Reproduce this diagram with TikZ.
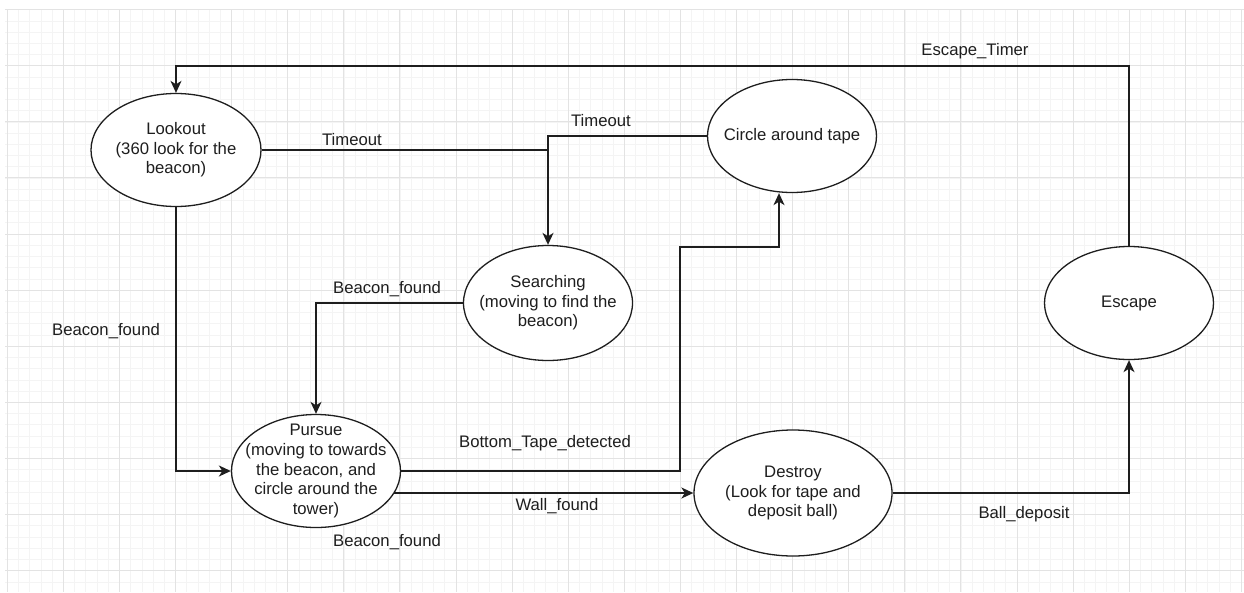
\documentclass[tikz,border=0pt]{standalone}
\usepackage{fontspec}
\setmainfont{Liberation Sans}
\usetikzlibrary{shapes.geometric,arrows.meta,calc}
\definecolor{gridminor}{HTML}{F4F4F4}
\definecolor{gridmajor}{HTML}{E3E3E3}
\definecolor{ink}{HTML}{1E1E1E}
\tikzset{
  txt/.style={font=\fontsize{16.7}{19.6}\selectfont, text=ink, inner sep=0pt, align=center},
  state/.style={ellipse, draw=ink, line width=1.3pt, fill=white, inner sep=0pt,
                minimum width=170pt, minimum height=114pt},
  conn/.style={draw=ink, line width=1.6pt},
  arr/.style={conn, -{Stealth[length=12pt,width=11pt,inset=3.5pt]}},
}
\begin{document}
\begin{tikzpicture}[x=1pt,y=-1pt]
\useasboundingbox (0,0) rectangle (1244,592);
\fill[white] (0,0) rectangle (1244,592);
% grid
\foreach \i in {0,...,110} {
  \draw[gridminor, line width=0.6pt] ({7.2+11.22*\i},9.6) -- ({7.2+11.22*\i},592);
}
\foreach \j in {0,...,52} {
  \draw[gridminor, line width=0.6pt] (5,{9.6+11.22*\j}) -- (1244,{9.6+11.22*\j});
}
\foreach \i in {0,...,22} {
  \draw[gridmajor, line width=1pt] ({7.2+56.1*\i},9.6) -- ({7.2+56.1*\i},592);
}
\foreach \j in {0,...,10} {
  \draw[gridmajor, line width=1pt] (5,{9.6+56.1*\j}) -- (1244,{9.6+56.1*\j});
}

% states
\node[state, minimum width=170pt, minimum height=113pt,
      label={[txt]center:{Lookout\\(360 look for the\\beacon)}}] (look) at (176,150) {};
\node[state, minimum width=169pt, minimum height=113pt,
      label={[txt]center:{Circle around tape}}] (circ) at (792,136) {};
\node[state, minimum width=169pt, minimum height=115pt,
      label={[txt]center:{Searching\\(moving to find the\\beacon)}}] (search) at (548,303) {};
\node[state, minimum width=169pt, minimum height=113pt,
      label={[txt]center:{Pursue\\(moving to towards\\the beacon, and\\circle around the\\tower)}}] (pursue) at (316,471) {};
\node[state, minimum width=198pt, minimum height=126pt,
      label={[txt]center:{Destroy\\(Look for tape and\\deposit ball)}}] (destroy) at (793,493) {};
\node[state, minimum width=169pt, minimum height=113pt,
      label={[txt]center:{Escape}}] (esc) at (1129,303) {};

% helper coordinates
\coordinate (topR) at (1129,66);
\coordinate (bt1) at (680,471);
\coordinate (bt2) at (779,247);
\coordinate (wallS) at ($(pursue.center)+(78.4,22)$);

% connectors
\draw[arr] (esc.north) -- (topR) -| (look.north);
\draw[conn] (look.east) -- (look.east -| search.north);
\draw[arr] (circ.west) -| (search.north);
\draw[arr] (search.west) -| (pursue.north);
\draw[arr] (look.south) |- (pursue.west);
\draw[arr] (pursue.east) -- (bt1) |- (bt2) -- (bt2 |- circ.south);
\draw[arr] (wallS) -- (destroy.west);
\draw[arr] (destroy.east) -| (esc.south);

% labels
\node[txt] (lEsc) at (975,51) {Escape\_Timer};
\node[txt] (lTo1) at (352,140) {Timeout};
\node[txt] (lTo2) at (601,121) {Timeout};
\node[txt] (lBf1) at (387,289) {Beacon\_found};
\node[txt] (lBf2) at (106,331) {Beacon\_found};
\node[txt] (lBt) at (545,443) {Bottom\_Tape\_detected};
\node[txt] (lWall) at (557,506) {Wall\_found};
\node[txt] (lBf3) at (387,542) {Beacon\_found};
\node[txt] (lBall) at (1024,514) {Ball\_deposit};
\end{tikzpicture}
\end{document}
